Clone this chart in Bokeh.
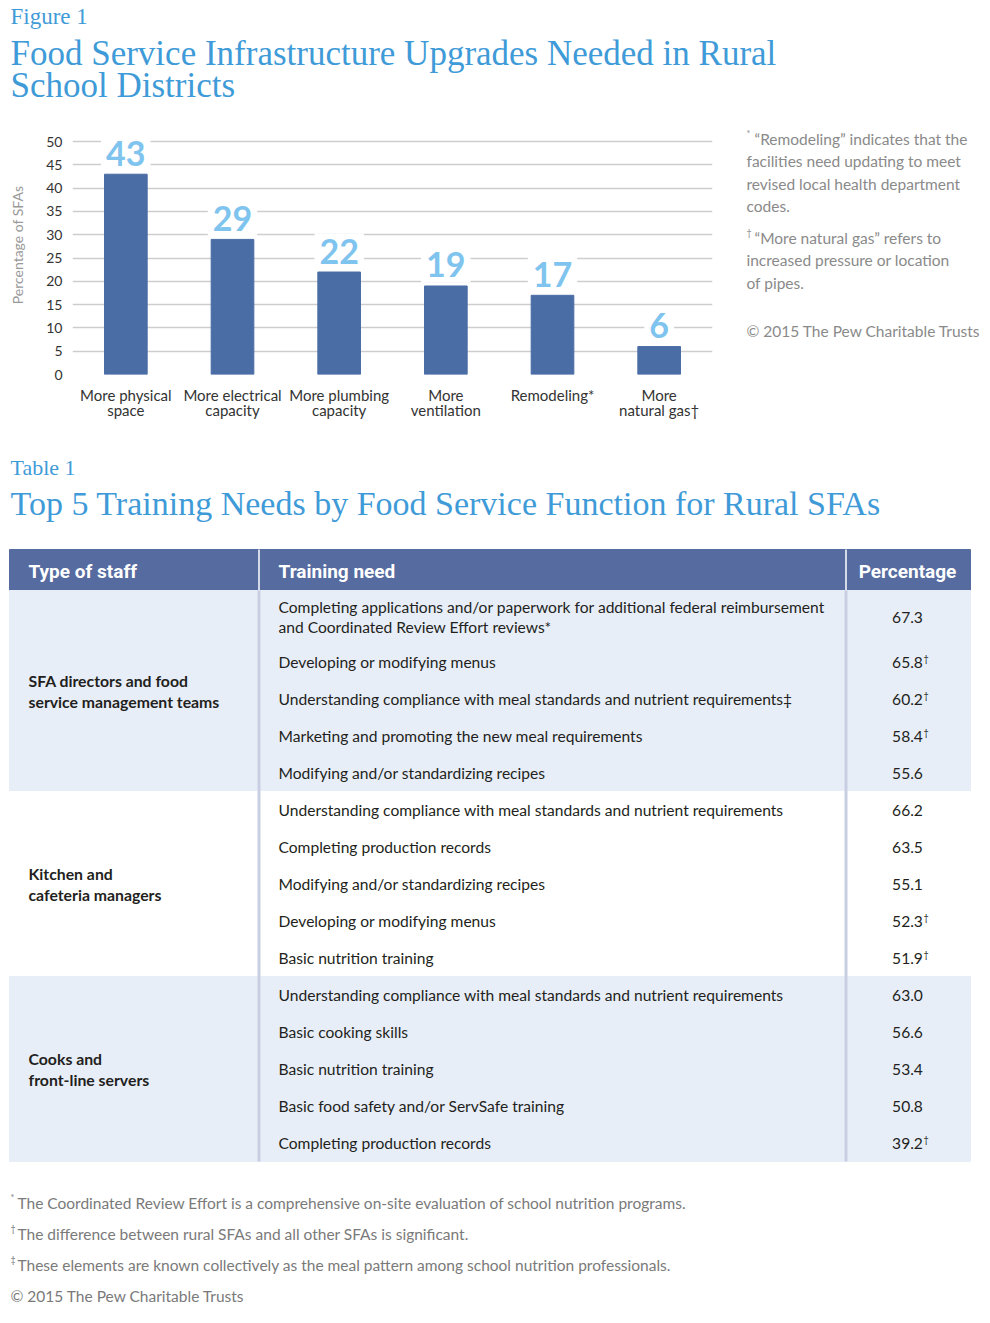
from bokeh.plotting import figure
from bokeh.layouts import column, row
from bokeh.models import Range1d, FactorRange, FixedTicker, Label
from bokeh.embed import file_html
from bokeh.resources import INLINE
from bokeh.core.properties import value

# ---------------- data ----------------
fig_label = "Figure 1"
fig_title = ["Food Service Infrastructure Upgrades Needed in Rural", "School Districts"]

categories = ["More physical\nspace", "More electrical\ncapacity", "More plumbing\ncapacity",
              "More\nventilation", "Remodeling*", "More\nnatural gas\u2020"]
percent_sfas = [43, 29, 22, 19, 17, 6]
y_ticks = [0, 5, 10, 15, 20, 25, 30, 35, 40, 45, 50]
y_axis_title = "Percentage of SFAs"

note_marks = ["*", "\u2020", ""]
notes = [
    ["\u201cRemodeling\u201d indicates that the", "facilities need updating to meet",
     "revised local health department", "codes."],
    ["\u201cMore natural gas\u201d refers to", "increased pressure or location", "of pipes."],
    ["\u00a9 2015 The Pew Charitable Trusts"],
]

table_label = "Table 1"
table_title = "Top 5 Training Needs by Food Service Function for Rural SFAs"
headers = ["Type of staff", "Training need", "Percentage"]
staff_types = ["SFA directors and food\nservice management teams",
               "Kitchen and\ncafeteria managers",
               "Cooks and\nfront-line servers"]
training_needs = [
    ["Completing applications and/or paperwork for additional federal reimbursement\nand Coordinated Review Effort reviews*",
     "Developing or modifying menus",
     "Understanding compliance with meal standards and nutrient requirements\u2021",
     "Marketing and promoting the new meal requirements",
     "Modifying and/or standardizing recipes"],
    ["Understanding compliance with meal standards and nutrient requirements",
     "Completing production records",
     "Modifying and/or standardizing recipes",
     "Developing or modifying menus",
     "Basic nutrition training"],
    ["Understanding compliance with meal standards and nutrient requirements",
     "Basic cooking skills",
     "Basic nutrition training",
     "Basic food safety and/or ServSafe training",
     "Completing production records"],
]
percentages = [
    [67.3, 65.8, 60.2, 58.4, 55.6],
    [66.2, 63.5, 55.1, 52.3, 51.9],
    [63.0, 56.6, 53.4, 50.8, 39.2],
]
significant = [
    [False, True, True, True, False],
    [False, False, False, True, True],
    [False, False, False, False, True],
]
footnote_marks = ["*", "\u2020", "\u2021", ""]
footnotes = [
    "The Coordinated Review Effort is a comprehensive on-site evaluation of school nutrition programs.",
    "The difference between rural SFAs and all other SFAs is significant.",
    "These elements are known collectively as the meal pattern among school nutrition professionals.",
    "\u00a9 2015 The Pew Charitable Trusts",
]

# ---------------- styles ----------------
TITLE_BLUE = "#3f9bd8"
BAR_BLUE = "#4a6da5"
VALUE_BLUE = "#7fc4ee"
HEAD_BLUE = "#566b9f"
LIGHT_BG = "#e8eef8"
SEP = "#c9cfe2"
TEXT = "#231f20"
GRAY = "#8a8a8a"
SERIF = value("Liberation Serif")
SANS = value("Lato")


def canvas(w, h, x0, y0, top=0, bottom=0):
    p = figure(width=w, height=h, x_range=Range1d(x0, x0 + w),
               y_range=Range1d(y0 + h - bottom, y0 + top),
               x_axis_type=None, y_axis_type=None, toolbar_location=None,
               output_backend="svg", min_border=0,
               min_border_top=top, min_border_bottom=bottom)
    p.outline_line_color = None
    return p


# ---------------- header ----------------
head = canvas(990, 115, 0, 0)
head.text(x=[10], y=[16], text=[fig_label], text_font=SERIF, text_font_size="23px",
          text_color=TITLE_BLUE, text_baseline="alphabetic")
head.text(x=[10, 10], y=[53, 85], text=fig_title, text_font=SERIF, text_font_size="35px",
          text_color=TITLE_BLUE, text_baseline="alphabetic")

# ---------------- bar chart ----------------
BB = 66
bar = figure(width=730, height=325, x_range=FactorRange(*categories), y_range=Range1d(0, 55.6),
             toolbar_location=None, output_backend="svg",
             min_border_left=72, min_border_right=18, min_border_top=0, min_border_bottom=BB)
bar.vbar(x=categories, top=percent_sfas, width=0.4, color=BAR_BLUE)
for i, v in enumerate(percent_sfas):
    bar.add_layout(Label(x=i + 0.5, y=v, text=str(v), text_align="center", text_baseline="middle",
                         y_offset=21, text_font="Lato", text_font_style="bold",
                         text_font_size="34px", text_color=VALUE_BLUE,
                         background_fill_color="white", padding=5))
bar.outline_line_color = None
bar.xgrid.grid_line_color = None
bar.ygrid.grid_line_color = "#cdcdcd"
bar.ygrid.grid_line_width = 1.5
bar.yaxis.ticker = FixedTicker(ticks=y_ticks)
for ax in (bar.xaxis, bar.yaxis):
    ax.axis_line_color = None
    ax.major_tick_line_color = None
    ax.minor_tick_line_color = None
    ax.major_tick_out = 0
    ax.major_tick_in = 0
    ax.minor_tick_out = 0
    ax.major_label_text_font = "Lato"
    ax.major_label_text_color = "#333333"
bar.xaxis.major_label_text_font_size = "15px"
bar.xaxis.major_label_text_line_height = 0.84
bar.xaxis.major_label_standoff = 11
bar.yaxis.major_label_text_font_size = "14px"
bar.yaxis.major_label_standoff = 10
bar.yaxis.axis_label = y_axis_title
bar.yaxis.axis_label_text_font = "Lato"
bar.yaxis.axis_label_text_font_style = "normal"
bar.yaxis.axis_label_text_font_size = "14px"
bar.yaxis.axis_label_text_color = "#999999"
bar.yaxis.axis_label_standoff = 17

# ---------------- notes ----------------
side = canvas(260, 325, 730, 115, top=0, bottom=BB)
ny = [138, 237, 330]
for mark, block, y0 in zip(note_marks, notes, ny):
    ys = [y0 + 22.6 * k for k in range(len(block))]
    xs = [754 if (mark and k == 0) else 746 for k in range(len(block))]
    side.text(x=xs, y=ys, text=block, text_font=SANS, text_font_size="15.5px",
              text_color=GRAY, text_baseline="middle")
    if mark:
        side.text(x=[746], y=[y0 - 5], text=[mark], text_font=SANS, text_font_size="9px",
                  text_color=GRAY, text_baseline="middle")

# ---------------- table ----------------
tab = canvas(990, 883, 0, 440)
tab.text(x=[10], y=[467], text=[table_label], text_font=SERIF, text_font_size="22px",
         text_color=TITLE_BLUE, text_baseline="alphabetic")
tab.text(x=[10], y=[503], text=[table_title], text_font=SERIF, text_font_size="34px",
         text_color=TITLE_BLUE, text_baseline="alphabetic")

X0, X1, X2, X3 = 9, 258.5, 845.5, 970
HT, HB = 549, 590
tab.quad(left=[X0], right=[X3], top=[HT], bottom=[HB], color=HEAD_BLUE)
tab.segment(x0=[X1, X2], y0=[HT, HT], x1=[X1, X2], y1=[HB, HB], line_color="white", line_width=1.5)
tab.text(x=[28, 278, 907], y=[571] * 3, text=headers, text_font=value("Roboto"),
         text_font_style="bold", text_font_size="19px", text_color="white",
         text_baseline="middle", text_align=["left", "left", "center"])

y = HB
g_top, g_bot, need_y, need_t, pct_y, pct_t, dag_y = [], [], [], [], [], [], []
staff_y = []
for g, needs in enumerate(training_needs):
    top = y
    for k, need in enumerate(needs):
        h = 53 if "\n" in need else 37
        c = y + h / 2
        need_y.append(c)
        need_t.append(need)
        pct_y.append(c)
        pct_t.append(f"{percentages[g][k]:.1f}")
        if significant[g][k]:
            dag_y.append(c - 4)
        y += h
    g_top.append(top)
    g_bot.append(y)
    staff_y.append((top + y) / 2)

fills = [LIGHT_BG if g % 2 == 0 else "white" for g in range(len(g_top))]
tab.quad(left=X0, right=X3, top=g_top, bottom=g_bot, color=fills)
tab.segment(x0=[X1, X2], y0=[HB, HB], x1=[X1, X2], y1=[g_bot[-1], g_bot[-1]],
            line_color=SEP, line_width=3)
tab.text(x=28, y=staff_y, text=staff_types, text_font=SANS, text_font_style="bold",
         text_font_size="15.8px", text_color=TEXT, text_baseline="middle", text_line_height=1.07)
tab.text(x=278, y=need_y, text=need_t, text_font=SANS, text_font_size="15.6px",
         text_color=TEXT, text_baseline="middle", text_line_height=1.12)
tab.text(x=907, y=pct_y, text=pct_t, text_font=SANS, text_font_size="15.6px",
         text_color=TEXT, text_baseline="middle", text_align="center")
tab.text(x=923, y=dag_y, text=["\u2020"] * len(dag_y), text_font=SANS, text_font_size="9px",
         text_color=TEXT, text_baseline="middle")

fy = [1202 + 31 * k for k in range(len(footnotes))]
tab.text(x=[17 if m else 10 for m in footnote_marks], y=fy, text=footnotes, text_font=SANS,
         text_font_size="15.5px", text_color="#7a7a7a", text_baseline="middle")
mk_y = [fy[k] - 5 for k, m in enumerate(footnote_marks) if m]
mk_t = [m for m in footnote_marks if m]
tab.text(x=10, y=mk_y, text=mk_t, text_font=SANS, text_font_size="9px",
         text_color="#7a7a7a", text_baseline="middle")

layout = column(head, row(bar, side), tab)
open("out.html", "w").write(file_html(layout, INLINE))
